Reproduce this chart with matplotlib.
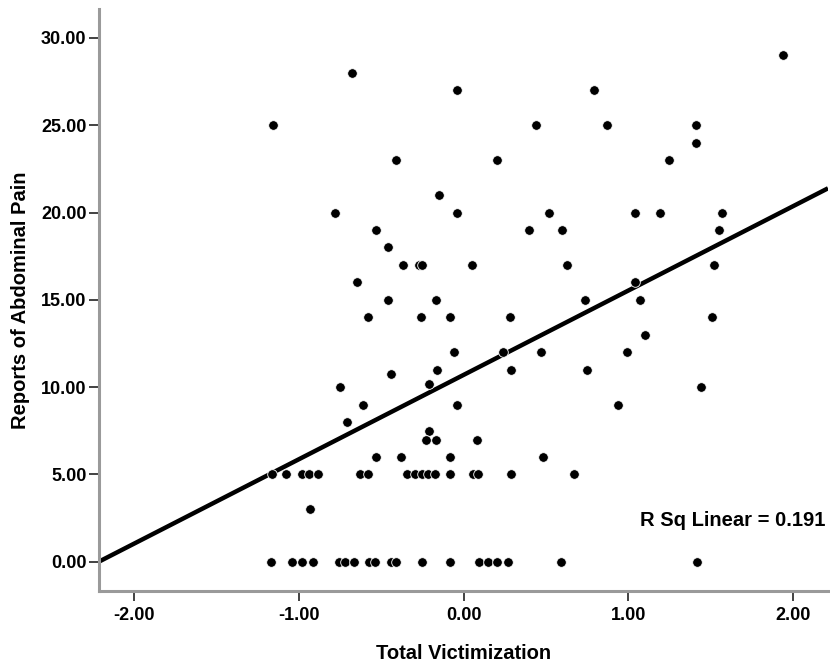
import numpy as np
import matplotlib
matplotlib.use("Agg")
import matplotlib.pyplot as plt
from matplotlib.ticker import FormatStrFormatter

# scatter values
victim_x = [
    -1.16, -0.68, -0.04, -0.41, 0.20, -0.15, -0.78, -0.04, 0.40, -0.53,
    -0.46, -0.37, -0.27, -0.25, 0.05, -0.65, -0.46, -0.17, -0.58, -0.26,
    -0.08, 0.28, -0.06, 0.24, -0.44, -0.16, 0.29, -0.75, -0.21, -0.61,
    -0.04, -0.71, -0.21, -0.23, -0.17, 0.08, -0.53, -0.38, -0.08,
    # row at 5
    -1.165, -1.08, -0.983, -0.937, -0.886, -0.629, -0.578, -0.345, -0.295,
    -0.25, -0.214, -0.173, -0.082, 0.06, 0.086, 0.287, 0.673,
    -0.93,
    # row at 0
    -1.17, -1.044, -0.983, -0.916, -0.755, -0.72, -0.665, -0.572, -0.536,
    -0.44, -0.41, -0.254, -0.082, 0.094, 0.147, 0.202, 0.272, 0.592, 1.417,
    # right side
    0.44, 0.79, 0.87, 1.41, 1.41, 1.25, 1.94, 0.52, 1.04, 1.19, 1.57,
    0.60, 1.55, 0.63, 1.52, 1.04, 0.74, 1.07, 1.51, 1.10, 0.47, 0.99,
    0.75, 1.44, 0.94, 0.48,
]
pain_y = [
    25, 28, 27, 23, 23, 21, 20, 20, 19, 19,
    18, 17, 17, 17, 17, 16, 15, 15, 14, 14,
    14, 14, 12, 12, 10.75, 11, 11, 10, 10.2, 9,
    9, 8, 7.5, 7, 7, 7, 6, 6, 6,
    5, 5, 5, 5, 5, 5, 5, 5, 5,
    5, 5, 5, 5, 5, 5, 5, 5,
    3,
    0, 0, 0, 0, 0, 0, 0, 0, 0,
    0, 0, 0, 0, 0, 0, 0, 0, 0, 0,
    25, 27, 25, 25, 24, 23, 29, 20, 20, 20, 20,
    19, 19, 17, 17, 16, 15, 15, 14, 13, 12, 12,
    11, 10, 9, 6,
]

# linear fit shown on the chart
fit_intercept = 10.7
fit_slope = 4.83
r_sq = 0.191

x_ticks = [-2, -1, 0, 1, 2]
y_ticks = [0, 5, 10, 15, 20, 25, 30]

plt.rcParams["font.family"] = ["Liberation Sans", "DejaVu Sans"]
plt.rcParams["font.weight"] = "bold"

fig = plt.figure(figsize=(8.3, 6.67), dpi=100)
ax = fig.add_axes([0.1193, 0.1144, 0.8783, 0.8716])

xlim = (-2.214, 2.213)
ax.set_xlim(xlim)
ax.set_ylim(-1.66, 31.64)

xs = np.array(xlim)
ax.plot(xs, fit_intercept + fit_slope * xs, color="black", lw=3.2,
        solid_capstyle="butt", zorder=2)
ax.scatter(victim_x, pain_y, s=48, color="black", edgecolors="white",
           linewidths=0.6, zorder=3)

ax.text(0.997, 0.1216, "R Sq Linear = %.3f" % r_sq, transform=ax.transAxes,
        ha="right", va="center", fontsize=14.5, fontweight="bold")

ax.set_xticks(x_ticks)
ax.set_yticks(y_ticks)
ax.xaxis.set_major_formatter(FormatStrFormatter("%.2f"))
ax.yaxis.set_major_formatter(FormatStrFormatter("%.2f"))
ax.tick_params(axis="both", direction="out", length=7, width=1.3,
               color="#333333", labelsize=13)
ax.tick_params(axis="x", pad=5)
ax.tick_params(axis="y", pad=2)
for lab in ax.get_xticklabels() + ax.get_yticklabels():
    lab.set_fontweight("bold")

for side in ["top", "right"]:
    ax.spines[side].set_visible(False)
for side in ["left", "bottom"]:
    ax.spines[side].set_color("#9a9a9a")
    ax.spines[side].set_linewidth(2.2)

ax.set_xlabel("Total Victimization", fontsize=14.5, fontweight="bold",
              labelpad=14)
ax.set_ylabel("Reports of Abdominal Pain", fontsize=14.5, fontweight="bold",
              labelpad=8)

fig.savefig("out.png", dpi=100, facecolor="white")
